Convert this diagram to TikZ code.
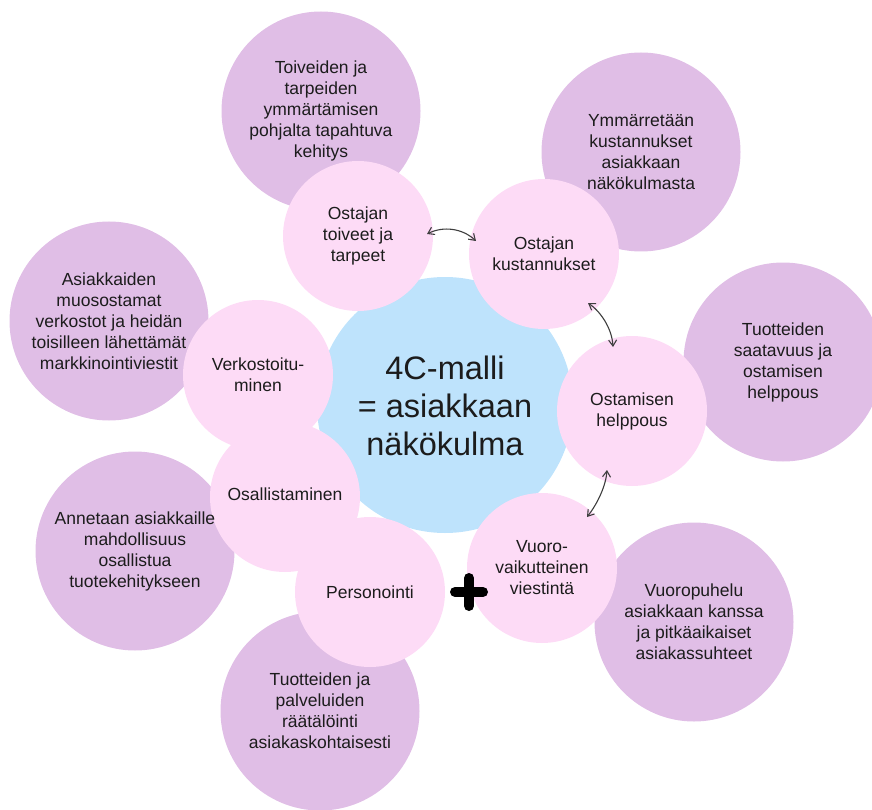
\documentclass[tikz,border=0pt]{standalone}
\usepackage{fontspec}
\setmainfont{Liberation Sans}
\usetikzlibrary{arrows.meta,calc}
\definecolor{ideafill}{RGB}{224,190,230}
\definecolor{factorfill}{RGB}{253,219,246}
\definecolor{corefill}{RGB}{190,227,252}
\definecolor{ink}{RGB}{28,28,28}
\begin{document}
\begin{tikzpicture}[x=1pt,y=-1pt,
  idea/.style={circle,fill=ideafill,minimum size=199pt,inner sep=0pt},
  factor/.style={circle,fill=factorfill,minimum size=150pt,inner sep=0pt},
  core/.style={circle,fill=corefill,minimum size=256pt,inner sep=0pt},
  label/.style={align=center,text=ink,inner sep=0pt,font=\fontsize{17.5}{21}\selectfont},
  biglabel/.style={align=center,text=ink,inner sep=0pt,font=\fontsize{32.5}{38}\selectfont},
  link/.style={{Straight Barb[length=6pt,width=8pt]}-{Straight Barb[length=6pt,width=8pt]},
    line width=1.1pt,draw=ink!85},
  plus/.style={line width=10pt,line cap=round,draw=black}]
\useasboundingbox (0,0) rectangle (872,810);
\clip (0,0) rectangle (872,810);

% outer ring: explanations
\node[idea] (e1) at (321,111) {};
\node[idea] (e2) at (641,152) {};
\node[idea] (e3) at (783,362) {};
\node[idea] (e4) at (694,622) {};
\node[idea] (e5) at (320,711) {};
\node[idea] (e6) at (135,551) {};
\node[idea] (e7) at (109,321) {};

% centre
\node[core] (core) at (445,405) {};

% inner ring: the C factors
\node[factor] (f1) at (358,236) {};
\node[factor] (f2) at (544,254) {};
\node[factor] (f3) at (632,411) {};
\node[factor] (f4) at (542,568) {};
\node[factor] (f5) at (370,592) {};
\node[factor] (f6) at (285,497) {};
\node[factor] (f7) at (258,375) {};

% texts
\node[biglabel] (tcore) at (445,406) {4C-malli\\= asiakkaan\\näkökulma};

\node[label] (te1) at (e1) {Toiveiden ja\\tarpeiden\\ymmärtämisen\\pohjalta tapahtuva\\kehitys};
\node[label] (te2) at (e2) {Ymmärretään\\kustannukset\\asiakkaan\\näkökulmasta};
\node[label] (te3) at (e3) {Tuotteiden\\saatavuus ja\\ostamisen\\helppous};
\node[label] (te4) at (e4) {Vuoropuhelu\\asiakkaan kanssa\\ja pitkäaikaiset\\asiakassuhteet};
\node[label] (te5) at (e5) {Tuotteiden ja\\palveluiden\\räätälöinti\\asiakaskohtaisesti};
\node[label] (te6) at (e6) {Annetaan asiakkaille\\mahdollisuus\\osallistua\\tuotekehitykseen};
\node[label] (te7) at (e7) {Asiakkaiden\\muosostamat\\verkostot ja heidän\\toisilleen lähettämät\\markkinointiviestit};

\node[label] (tf1) at (f1) {Ostajan\\toiveet ja\\tarpeet};
\node[label] (tf2) at (f2) {Ostajan\\kustannukset};
\node[label] (tf3) at (f3) {Ostamisen\\helppous};
\node[label] (tf4) at (f4) {Vuoro-\\vaikutteinen\\viestintä};
\node[label] (tf5) at (f5) {Personointi};
\node[label] (tf6) at ($(f6)+(0,-3)$) {Osallistaminen};
\node[label] (tf7) at (f7) {Verkostoitu-\\minen};

% curved double arrows between neighbouring factors
\coordinate (a1) at ($(f1)+(69,-2)$);
\coordinate (b1) at ($(f2)+(-68,-13)$);
\draw[link] (a1) .. controls ($(a1)+(16,-8)$) and ($(b1)+(-14,-13)$) .. (b1);

\coordinate (a2) at ($(f2)+(44,49)$);
\coordinate (b2) at ($(f3)+(-19,-64)$);
\draw[link] (a2) .. controls ($(a2)+(12,8)$) and ($(b2)+(-1,-19)$) .. (b2);

\coordinate (a3) at ($(f3)+(-25,59)$);
\coordinate (b3) at ($(f4)+(45,-51)$);
\draw[link] (a3) .. controls ($(a3)+(-1,15)$) and ($(b3)+(11,-14)$) .. (b3);

% plus sign between Personointi and the interactive communication factor
\coordinate (pc) at (469,592);
\draw[plus] ($(pc)+(-14,0)$) -- ($(pc)+(14,0)$);
\draw[plus] ($(pc)+(0,-14)$) -- ($(pc)+(0,14)$);
\end{tikzpicture}
\end{document}
